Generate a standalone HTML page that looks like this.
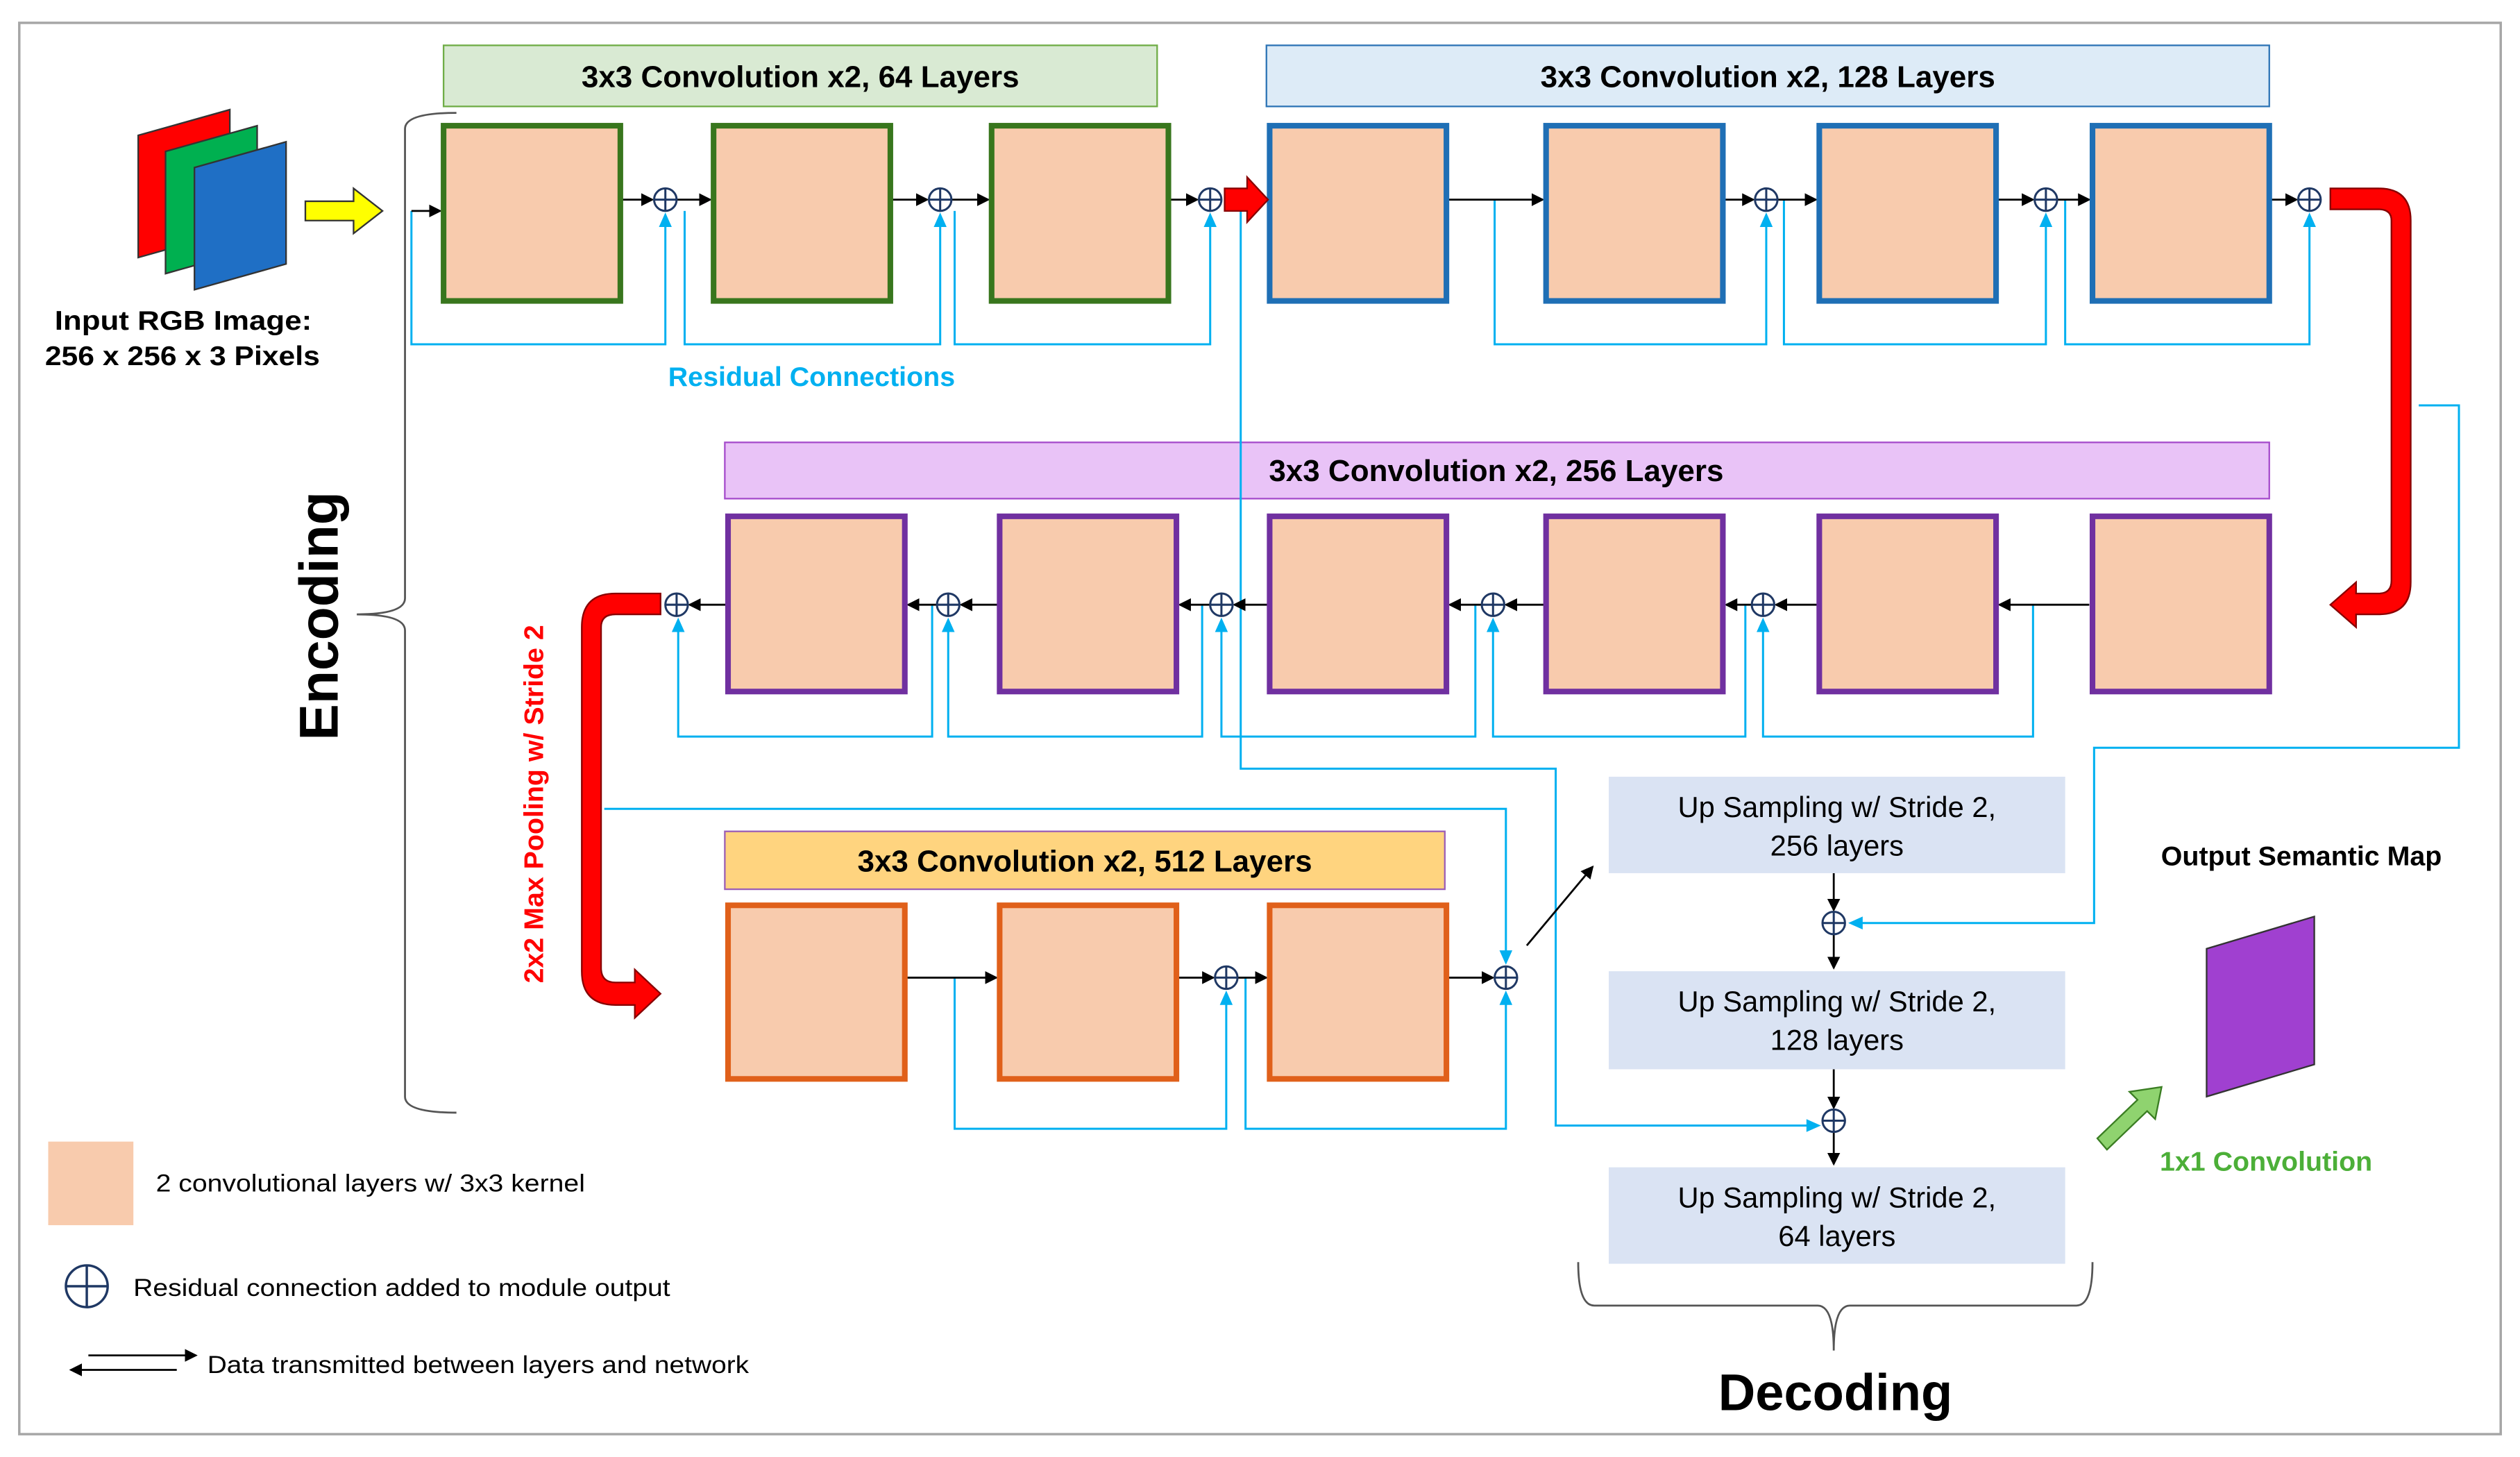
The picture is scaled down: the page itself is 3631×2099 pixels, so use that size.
<!DOCTYPE html>
<html><head><meta charset="utf-8"><style>
html,body{margin:0;padding:0;background:#fff;}
svg{display:block;}
text{font-family:"Liberation Sans",Arial,sans-serif;}
</style></head><body>
<svg width="3631" height="2099" viewBox="0 0 1568 906" xmlns="http://www.w3.org/2000/svg">
<defs>
<marker id="ab" markerWidth="8" markerHeight="8" refX="7" refY="4" orient="auto" markerUnits="userSpaceOnUse"><path d="M0,0 L8,4 L0,8z" fill="#000"/></marker>
<g id="cp"><circle r="7" fill="#fff" stroke="#1f3864" stroke-width="1.3"/><path d="M-7,0H7M0,-7V7" stroke="#1f3864" stroke-width="1.3"/></g>
</defs>
<rect x="12" y="14" width="1544" height="878" fill="#fff" stroke="#a6a6a6" stroke-width="1.5"/>

<rect x="276" y="28" width="444" height="38" fill="#d9ead3" stroke="#70ad47"/>
<text x="498" y="54" font-size="19" font-weight="bold" text-anchor="middle">3x3 Convolution x2, 64 Layers</text>
<rect x="788" y="28" width="624" height="38" fill="#ddebf7" stroke="#2e75b6"/>
<text x="1100" y="54" font-size="19" font-weight="bold" text-anchor="middle">3x3 Convolution  x2, 128 Layers</text>
<rect x="451" y="275" width="961" height="35" fill="#e9c3f7" stroke="#a64dcc"/>
<text x="931" y="299" font-size="19" font-weight="bold" text-anchor="middle">3x3 Convolution  x2, 256 Layers</text>
<rect x="451" y="517" width="448" height="36" fill="#ffd47f" stroke="#9c5fb5"/>
<text x="675" y="542" font-size="19" font-weight="bold" text-anchor="middle">3x3 Convolution  x2, 512 Layers</text>

<g fill="none" stroke="#00b0f0" stroke-width="1.3">
<path d="M256,131 V214 H414 V140"/>
<path d="M426,131 V214 H585 V140"/>
<path d="M594,131 V214 H753 V140"/>
<path d="M930,124 V214 H1099 V140"/>
<path d="M1110,124 V214 H1273 V140"/>
<path d="M1285,124 V214 H1437 V140"/>
<path d="M422,392 V458 H580 V376"/>
<path d="M590,392 V458 H748 V376"/>
<path d="M760,392 V458 H918 V376"/>
<path d="M929,392 V458 H1086 V376"/>
<path d="M1097,392 V458 H1265 V376"/>
<path d="M594,608 V702 H763 V624"/>
<path d="M775,608 V702 H937 V624"/>
<path d="M772,124 V478 H968 V700 H1126"/>
<path d="M1505,252 H1530 V465 H1303 V574 H1158"/>
<path d="M376,503 H937 V592"/>
</g>
<g fill="#00b0f0">
<path d="M414,132 l-4,9 h8z"/><path d="M585,132 l-4,9 h8z"/><path d="M753,132 l-4,9 h8z"/>
<path d="M1099,132 l-4,9 h8z"/><path d="M1273,132 l-4,9 h8z"/><path d="M1437,132 l-4,9 h8z"/>
<path d="M422,384 l-4,9 h8z"/><path d="M590,384 l-4,9 h8z"/><path d="M760,384 l-4,9 h8z"/><path d="M929,384 l-4,9 h8z"/><path d="M1097,384 l-4,9 h8z"/>
<path d="M763,616 l-4,9 h8z"/><path d="M937,616 l-4,9 h8z"/><path d="M937,600 l-4,-9 h8z"/>
<path d="M1133,700 l-9,-4 v8z"/><path d="M1150,574 l9,-4 v8z"/>
</g>

<g stroke="#000" stroke-width="1.2" fill="none" marker-end="url(#ab)">
<path d="M256,131 H274"/>
<path d="M386,124 H406"/><path d="M421,124 H442"/>
<path d="M554,124 H577"/><path d="M592,124 H615"/>
<path d="M727,124 H745"/>
<path d="M900,124 H960"/>
<path d="M1072,124 H1091"/><path d="M1106,124 H1130"/>
<path d="M1242,124 H1265"/><path d="M1280,124 H1300"/>
<path d="M1412,124 H1429"/>
<path d="M1300,376 H1244"/>
<path d="M1132,376 H1105"/><path d="M1090,376 H1074"/>
<path d="M962,376 H937"/><path d="M922,376 H902"/>
<path d="M790,376 H768"/><path d="M753,376 H734"/>
<path d="M622,376 H598"/><path d="M583,376 H565"/>
<path d="M453,376 H429"/>
<path d="M563,608 H620"/>
<path d="M732,608 H755"/><path d="M770,608 H788"/>
<path d="M900,608 H929"/>
<path d="M950,588 L991,539"/>
<path d="M1141,543 V566"/><path d="M1141,581 V602"/>
<path d="M1141,665 V689"/><path d="M1141,704 V724"/>
</g>

<g fill="#f8cbad" stroke-width="3.5">
<g stroke="#38761d"><rect x="276" y="78" width="110" height="109"/><rect x="444" y="78" width="110" height="109"/><rect x="617" y="78" width="110" height="109"/></g>
<g stroke="#1f6fb5"><rect x="790" y="78" width="110" height="109"/><rect x="962" y="78" width="110" height="109"/><rect x="1132" y="78" width="110" height="109"/><rect x="1302" y="78" width="110" height="109"/></g>
<g stroke="#7030a0"><rect x="453" y="321" width="110" height="109"/><rect x="622" y="321" width="110" height="109"/><rect x="790" y="321" width="110" height="109"/><rect x="962" y="321" width="110" height="109"/><rect x="1132" y="321" width="110" height="109"/><rect x="1302" y="321" width="110" height="109"/></g>
<g stroke="#e0601a"><rect x="453" y="563" width="110" height="108"/><rect x="622" y="563" width="110" height="108"/><rect x="790" y="563" width="110" height="108"/></g>
</g>

<use href="#cp" x="414" y="124"/><use href="#cp" x="585" y="124"/><use href="#cp" x="753" y="124"/>
<use href="#cp" x="1099" y="124"/><use href="#cp" x="1273" y="124"/><use href="#cp" x="1437" y="124"/>
<use href="#cp" x="421" y="376"/><use href="#cp" x="590" y="376"/><use href="#cp" x="760" y="376"/><use href="#cp" x="929" y="376"/><use href="#cp" x="1097" y="376"/>
<use href="#cp" x="763" y="608"/><use href="#cp" x="937" y="608"/>
<use href="#cp" x="1141" y="574"/><use href="#cp" x="1141" y="697"/>

<path d="M762,117 H776 V110 L789,124 L776,138 V131 H762z" fill="#ff0000" stroke="#800" stroke-width="1"/>
<path d="M1450,117 H1480 Q1500,117 1500,137 V362 Q1500,382 1480,382 H1466 V390 L1450,376 L1466,362 V369 H1480 Q1488,369 1488,361 V137 Q1488,130 1480,130 H1450z" fill="#ff0000" stroke="#800" stroke-width="1"/>
<path d="M411,369 H383 Q362,369 362,390 V604 Q362,625 383,625 H395 V633 L411,618 L395,603 V611 H383 Q374,611 374,602 V390 Q374,382 383,382 H411z" fill="#ff0000" stroke="#800" stroke-width="1"/>

<g fill="#dae3f3"><rect x="1001" y="483" width="284" height="60"/><rect x="1001" y="604" width="284" height="61"/><rect x="1001" y="726" width="284" height="60"/></g>
<g font-size="18" text-anchor="middle">
<text x="1143" y="508">Up Sampling  w/ Stride 2,</text><text x="1143" y="532">256 layers</text>
<text x="1143" y="629">Up Sampling  w/ Stride 2,</text><text x="1143" y="653">128 layers</text>
<text x="1143" y="751">Up Sampling  w/ Stride 2,</text><text x="1143" y="775">64 layers</text>
</g>

<polygon points="86,84 143,68 143,144 86,160" fill="#ff0000" stroke="#333"/>
<polygon points="103,94 160,78 160,154 103,170" fill="#00b050" stroke="#333"/>
<polygon points="121,104 178,88 178,164 121,180" fill="#1f6fc5" stroke="#333"/>
<path d="M190,125 H220 V117 L238,131 L220,145 V137 H190z" fill="#ffff00" stroke="#333"/>
<text x="34" y="205" font-size="17" font-weight="bold" textLength="160" lengthAdjust="spacingAndGlyphs">Input RGB Image:</text>
<text x="28" y="227" font-size="17" font-weight="bold" textLength="171" lengthAdjust="spacingAndGlyphs">256 x 256 x 3 Pixels</text>
<text x="505" y="240" font-size="17" font-weight="bold" fill="#00b0f0" text-anchor="middle">Residual Connections</text>

<path d="M284,70 Q252,70 252,80 V372 Q252,382 222,382 Q252,382 252,392 V682 Q252,692 284,692" fill="none" stroke="#555" stroke-width="1.2"/>
<text transform="translate(210,383) rotate(-90)" font-size="34" font-weight="bold" text-anchor="middle">Encoding</text>
<text transform="translate(338,500) rotate(-90)" font-size="17" font-weight="bold" fill="#ff0000" text-anchor="middle">2x2 Max Pooling w/ Stride 2</text>

<path d="M982,785 Q982,812 992,812 H1131 Q1141,812 1141,840 Q1141,812 1151,812 H1292 Q1302,812 1302,785" fill="none" stroke="#555" stroke-width="1.2"/>
<text x="1142" y="877" font-size="32" font-weight="bold" text-anchor="middle">Decoding</text>

<text x="1432" y="538" font-size="17" font-weight="bold" text-anchor="middle">Output Semantic Map</text>
<polygon points="1373,590 1440,570 1440,662 1373,682" fill="#a040d0" stroke="#333"/>
<path d="M1305,708 L1330,684 L1325,679 L1345,676 L1341,696 L1336,691 L1311,715z" fill="#8fd36f" stroke="#3a7d22"/>
<text x="1410" y="728" font-size="17" font-weight="bold" fill="#4caf38" text-anchor="middle">1x1 Convolution</text>

<rect x="30" y="710" width="53" height="52" fill="#f8cbad"/>
<text x="97" y="741" font-size="15" textLength="267" lengthAdjust="spacingAndGlyphs">2 convolutional layers w/ 3x3 kernel</text>
<circle cx="54" cy="800" r="13" fill="#fff" stroke="#1f3864" stroke-width="1.5"/><path d="M41,800H67M54,787V813" stroke="#1f3864" stroke-width="1.5"/>
<text x="83" y="806" font-size="15" textLength="334" lengthAdjust="spacingAndGlyphs">Residual connection added to module output</text>
<path d="M55,843 H122" stroke="#000" stroke-width="1.2" marker-end="url(#ab)"/>
<path d="M110,852 H44" stroke="#000" stroke-width="1.2" marker-end="url(#ab)"/>
<text x="129" y="854" font-size="15" textLength="337" lengthAdjust="spacingAndGlyphs">Data transmitted between layers and network</text>
</svg>
</body></html>
